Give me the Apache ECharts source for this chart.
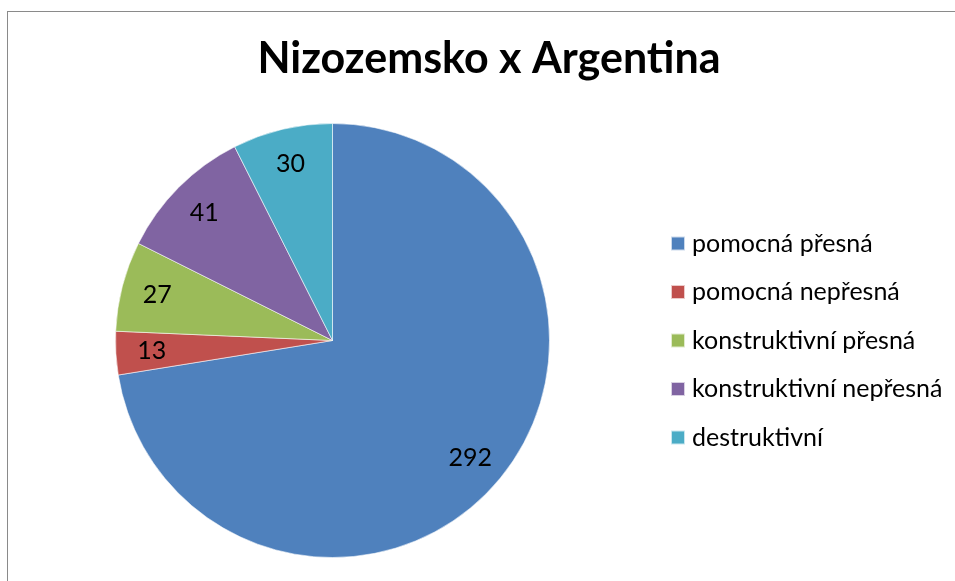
<!DOCTYPE html>
<html>
<head>
<meta charset="utf-8">
<script src="https://cdn.jsdelivr.net/npm/echarts@6/dist/echarts.min.js"></script>
<style>
html,body{margin:0;padding:0;background:#fff;overflow:hidden}
#wrap{position:relative;width:955px;height:581px}
#c{width:955px;height:581px}
#frame{position:absolute;left:7px;top:10.5px;right:-5px;bottom:-5px;border-left:1.5px solid #8a8a8a;border-top:1.5px solid #8a8a8a;pointer-events:none}
</style>
</head>
<body>
<div id="wrap"><div id="c"></div><div id="frame"></div></div>
<script>
const categories = ['pomocná přesná', 'pomocná nepřesná', 'konstruktivní přesná', 'konstruktivní nepřesná', 'destruktivní'];
const values = [292, 13, 27, 41, 30];
const colors = ['#4F81BD', '#C0504D', '#9BBB59', '#8064A2', '#4BACC6'];
const titleText = 'Nizozemsko x Argentina';

const FONT = 'Lato, "Open Sans", sans-serif';
const data = categories.map((n, i) => ({ name: n, value: values[i], itemStyle: { color: colors[i] } }));
const labelData = categories.map((n, i) => ({ name: n, value: values[i] }));

const chart = echarts.init(document.getElementById('c'), null, { renderer: 'canvas' });
chart.setOption({
  animation: false,
  backgroundColor: '#fff',
  title: {
    text: titleText,
    left: 484,
    top: 33,
    textAlign: 'center',
    textStyle: { fontFamily: FONT, fontWeight: 'bold', fontSize: 43, color: '#000' }
  },
  legend: {
    orient: 'vertical',
    left: 665,
    top: 226,
    itemWidth: 14,
    itemHeight: 14,
    itemGap: 23.5,
    icon: 'rect',
    data: categories,
    selectedMode: false,
    textStyle: { fontFamily: FONT, fontSize: 25, color: '#000', padding: [0, 0, 0, 2] }
  },
  series: [{
    type: 'pie',
    center: [332.5, 340.5],
    radius: [0, 217],
    startAngle: 90,
    clockwise: true,
    data: data,
    label: { show: false },
    labelLine: { show: false },
    itemStyle: { borderColor: 'rgba(255,255,255,0.7)', borderWidth: 0.8 },
    emphasis: { disabled: true }
  }, {
    type: 'pie',
    center: [332.5, 340.5],
    radius: [139, 217],
    startAngle: 90,
    clockwise: true,
    silent: true,
    legendHoverLink: false,
    data: labelData,
    itemStyle: { color: 'rgba(0,0,0,0)' },
    label: { show: true, position: 'inside', formatter: '{c}', fontFamily: FONT, fontSize: 25, color: '#000' },
    labelLine: { show: false },
    emphasis: { disabled: true }
  }]
});
</script>
</body>
</html>
